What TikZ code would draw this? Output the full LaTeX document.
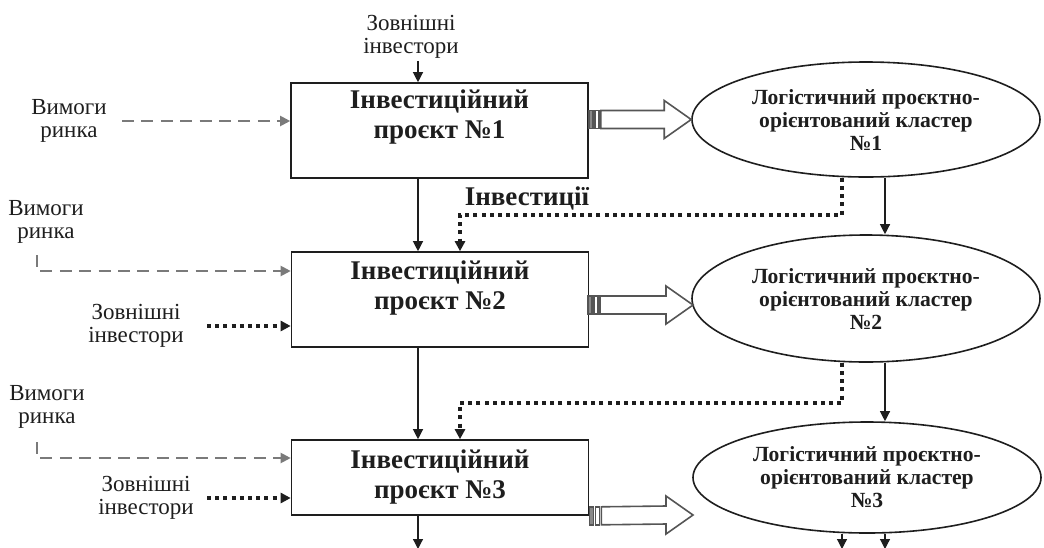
\documentclass[tikz,border=0pt]{standalone}
\usepackage{fontspec}
\setmainfont{Liberation Serif}
\usepackage{xcolor}
\definecolor{ink}{HTML}{1E1E1E}
\definecolor{demand}{HTML}{7A7A7A}
\definecolor{frame}{HTML}{555555}
\usetikzlibrary{shapes.geometric, arrows.meta, calc}
\tikzset{
  proj/.style={
    rectangle, draw=ink, line width=0.8pt, fill=white,
    minimum width=148.5pt, minimum height=#1
  },
  projtxt/.style={align=center, text=ink,
    font=\fontsize{13.5}{15}\selectfont\bfseries},
  clust/.style={
    ellipse, draw=ink, line width=0.8pt, fill=white, inner sep=0pt,
    minimum width=174pt, minimum height=#1, align=center, text=ink,
    font=\fontsize{10.8}{11.5}\selectfont\bfseries
  },
  side/.style={align=center, text=ink, inner sep=1pt,
    font=\fontsize{11.5}{11.5}\selectfont},
  arr/.style={-{Triangle[length=5pt,width=5pt]}, line width=0.6pt, draw=ink},
  req/.style={arr, dash pattern=on 6pt off 3.7pt, draw=demand, line width=1pt},
  inv/.style={arr, dash pattern=on 2pt off 2.1pt, line width=2pt},
  fat/.style={draw=frame, line width=0.8pt, fill=white}
}
% striped block arrow from a tail point to a tip point (same height)
\newcommand{\fatarrow}[2]{
  \draw[fat, fill=frame!70] ($(#1)+(0,-9)$) rectangle ($(#1)+(4,9)$);
  \draw[fat] ($(#1)+(6,-9)$) rectangle ($(#1)+(10,9)$);
  \draw[fat] ($(#1)+(12,-9)$) -- ($(#2)+(-27,-9)$) -- ($(#2)+(-27,-19)$)
    -- (#2) -- ($(#2)+(-27,19)$) -- ($(#2)+(-27,9)$) -- ($(#1)+(12,9)$) -- cycle;
}

\begin{document}
\begin{tikzpicture}[x=0.5pt, y=-0.5pt]

  \useasboundingbox (0,0) rectangle (1044,547);

  %% Projects
  \node[proj=47.5pt] (p1) at (439.5,130.5) {};
  \node[projtxt] (t1) at (439.5,117.5) {Інвестиційний\\проєкт №1};
  \node[proj=47.5pt] (p2) at (440,299.5) {};
  \node[projtxt] (t2) at (440,288) {Інвестиційний\\проєкт №2};
  \node[proj=37.5pt] (p3) at (440,477.5) {};
  \node[projtxt] (t3) at (440,477) {Інвестиційний\\проєкт №3};

  %% Clusters
  \node[clust=57.5pt] (e1) at (866,119.5)
    {Логістичний проєктно-\\орієнтований кластер\\№1};
  \node[clust=63.5pt] (e2) at (866,298.5)
    {Логістичний проєктно-\\орієнтований кластер\\№2};
  \node[clust=55.5pt] (e3) at (867,477.5)
    {Логістичний проєктно-\\орієнтований кластер\\№3};

  %% Side labels
  \node[side] (ext1) at (411,37) {Зовнішні\\інвестори};
  \node[side] (req1) at (69,121) {Вимоги\\ринка};
  \node[side] (req2) at (46,222) {Вимоги\\ринка};
  \node[side] (ext2) at (136,326) {Зовнішні\\інвестори};
  \node[side] (req3) at (47,407) {Вимоги\\ринка};
  \node[side] (ext3) at (146,498) {Зовнішні\\інвестори};
  \node[projtxt] (lbl) at (527,198) {Інвестиції};

  %% helper points
  \coordinate (col) at (418,0);
  \coordinate (ecol) at (885,0);
  \coordinate (r1) at (122,121);
  \coordinate (r2) at (37,255);
  \coordinate (r3) at (37,442);
  \coordinate (k1) at (460,215);
  \coordinate (k2) at (460,403);
  \coordinate (out1) at (418,549);
  \coordinate (out2) at (842,549);
  \coordinate (out3) at (885,549);

  %% Vertical flow
  \draw[arr] (ext1.south -| col) -- (p1.north -| col);
  \draw[arr] (p1.south -| col) -- (p2.north -| col);
  \draw[arr] (p2.south -| col) -- (p3.north -| col);
  \draw[arr] (p3.south -| col) -- (out1);
  \draw[arr] (e1.south -| ecol) -- (e2.north -| ecol);
  \draw[arr] (e2.south -| ecol) -- (e3.north -| ecol);
  \draw[arr] (e3.south -| out2) -- (out2);
  \draw[arr] (e3.south -| out3) -- (out3);

  %% Market demands and outside investors
  \draw[req] (r1) -- (p1.west |- r1);
  \draw[req] (r2) |- (p2.west |- 0,271);
  \draw[req] (r3) |- (p3.west |- 0,458);
  \draw[inv] (ext2.east -| 207,0) -- (p2.west |- ext2.east);
  \draw[inv] (ext3.east -| 207,0) -- (p3.west |- ext3.east);

  %% Investments back from clusters
  \draw[inv] ($(e1.south)+(-24,0)$) |- (k1) -- (k1 |- p2.north);
  \draw[inv] ($(e2.south)+(-24,0)$) |- (k2) -- (k2 |- p3.north);

  %% Block arrows
  \coordinate (a1) at (p1.east |- e1.west);
  \coordinate (a2) at (588,305);
  \coordinate (b2) at (693,305);
  \coordinate (b3) at (693,515);
  \fatarrow{a1}{e1.west}
  \fatarrow{a2}{b2}
  \fatarrow{p3.south east}{b3}

\end{tikzpicture}
\end{document}
